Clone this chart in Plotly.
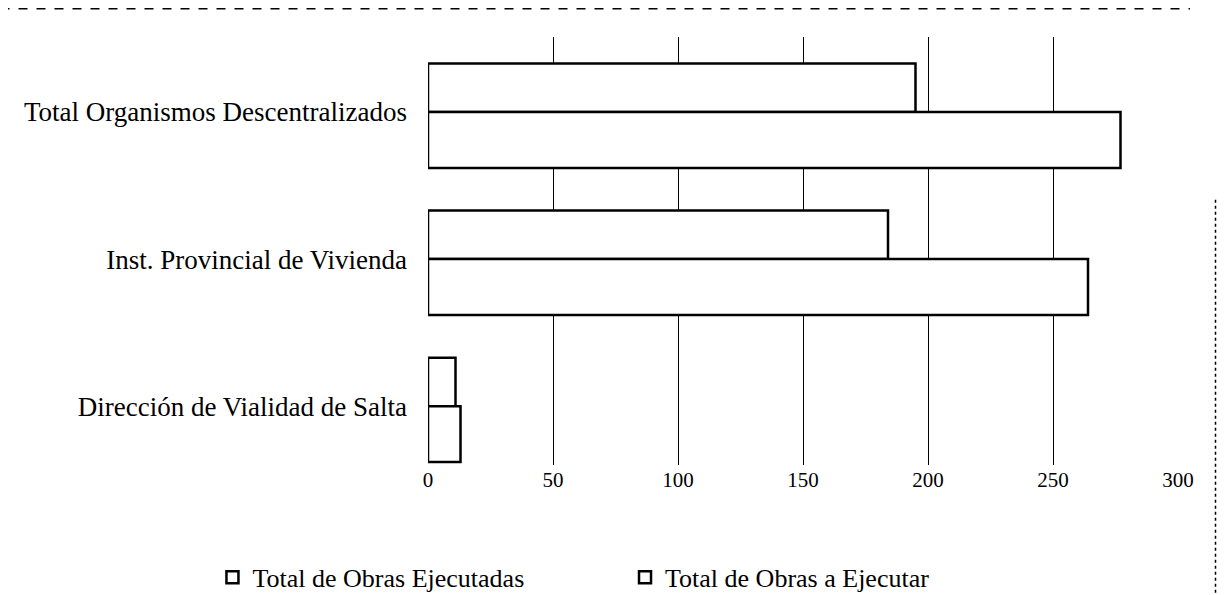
import plotly.graph_objects as go

categories = ["Total Organismos Descentralizados", "Inst. Provincial de Vivienda", "Dirección de Vialidad de Salta"]
obras_ejecutadas = [195, 184, 11]
obras_a_ejecutar = [277, 264, 13]
x_ticks = [0, 50, 100, 150, 200, 250, 300]

font = "Liberation Serif"
outline = dict(color="black", width=2.5)

fig = go.Figure()
# Ejecutadas sits just above the category line, a Ejecutar just below it
fig.add_trace(go.Bar(
    y=categories, x=obras_ejecutadas, orientation="h",
    name="Total de Obras Ejecutadas", width=0.33, offset=0,
    marker=dict(color="white", line=outline), legend="legend", showlegend=True,
))
fig.add_trace(go.Bar(
    y=categories, x=obras_a_ejecutar, orientation="h",
    name="Total de Obras a Ejecutar", width=0.38, offset=-0.38,
    marker=dict(color="white", line=outline), legend="legend2", showlegend=True,
))

legend_style = dict(orientation="h", xref="container", yref="container", xanchor="left",
                    yanchor="middle", y=0.03, font=dict(size=26), itemwidth=30,
                    bgcolor="rgba(0,0,0,0)", visible=True)

fig.update_layout(
    width=1217, height=587,
    margin=dict(l=420, r=47, t=29, b=130),
    paper_bgcolor="white", plot_bgcolor="white",
    barmode="overlay", showlegend=True,
    font=dict(family=font, size=21, color="black"),
    xaxis=dict(range=[0, 300], tickvals=x_ticks, showgrid=True, gridcolor="black",
               gridwidth=1, zeroline=False, showline=False,
               ticklabelstandoff=0, tickfont=dict(size=21)),
    yaxis=dict(categoryorder="array", categoryarray=categories[::-1],
               range=[-0.40, 2.51], showgrid=False, zeroline=False, showline=False,
               ticklabelstandoff=20, tickfont=dict(size=27)),
    legend=dict(legend_style, x=0.168),
    legend2=dict(legend_style, x=0.507),
    shapes=[
        dict(type="line", xref="paper", yref="paper", x0=-0.57, x1=1.016, y0=1.066, y1=1.066,
             line=dict(color="black", width=1.5, dash="dash")),
        dict(type="line", xref="paper", yref="paper", x0=1.05, x1=1.05, y0=0.62, y1=-0.3,
             line=dict(color="black", width=1.5, dash="dot")),
    ],
)

fig.write_html("out.html")
